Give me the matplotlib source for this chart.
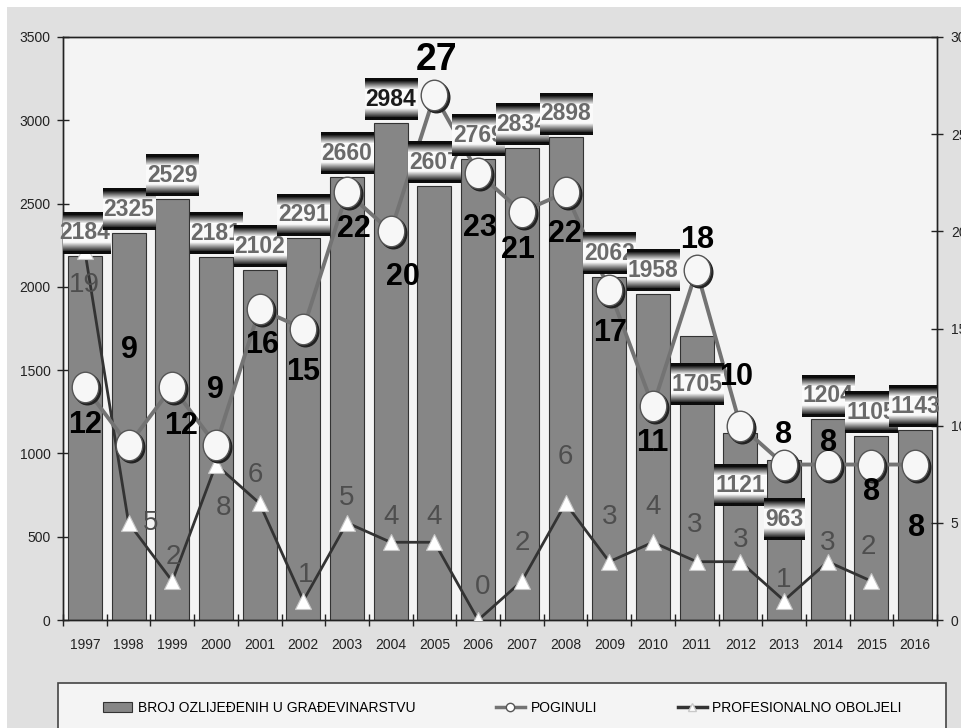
import numpy as np
import matplotlib
matplotlib.use("Agg")
import matplotlib.pyplot as plt
from matplotlib.patches import Rectangle
from matplotlib.lines import Line2D
from matplotlib.path import Path
from matplotlib.transforms import offset_copy

plt.rcParams['font.family'] = ['Liberation Sans', 'DejaVu Sans']

years = ['1997', '1998', '1999', '2000', '2001', '2002', '2003', '2004', '2005', '2006',
         '2007', '2008', '2009', '2010', '2011', '2012', '2013', '2014', '2015', '2016']
ozlijedeni = [2184, 2325, 2529, 2181, 2102, 2291, 2660, 2984, 2607, 2769,
              2834, 2898, 2062, 1958, 1705, 1121, 963, 1204, 1105, 1143]
poginuli = [12, 9, 12, 9, 16, 15, 22, 20, 27, 23, 21, 22, 17, 11, 18, 10, 8, 8, 8, 8]
oboljeli = [19, 5, 2, 8, 6, 1, 5, 4, 4, 0, 2, 6, 3, 4, 3, 3, 1, 3, 2]

# label placement (pixels, y up) - hand tuned to the original
pog_off = [(0, -38), (1, 95), (9, -39), (-1, 55), (2, -36), (0, -43), (7, -37), (12, -46),
           (2, 35), (2, -55), (-4, -38), (-1, -42), (1, -43), (-1, -37), (1, 30), (-4, 49),
           (0, 30), (1, 22), (0, -27), (1, -63)]
obo_off = [(0, -34), (22, 0), (1, 24), (8, -43), (-4, 28), (2, 26), (0, 25), (0, 25),
           (0, 25), (4, 33), (0, 38), (0, 46), (0, 45), (0, 35), (-2, 37), (0, 22),
           (0, 21), (0, 19), (-3, 34)]
box_bottom = {14: 1290, 15: 684, 16: 480}  # these boxes sit inside the bar

fig = plt.figure(figsize=(9.61, 7.28), dpi=100)
fig.patch.set_facecolor('white')
fig.add_artist(Rectangle((7 / 961, 0), 1, 721 / 728, transform=fig.transFigure,
                         facecolor='#e0e0e0', edgecolor='none', zorder=-10))

ax = fig.add_axes([63 / 961, 108 / 728, 874 / 961, 583 / 728])
ax.set_facecolor('#f4f4f4')
ax2 = ax.twinx()

x = np.arange(len(years))
ax.bar(x, ozlijedeni, width=0.78, color='#868686', edgecolor='#333333', linewidth=0.8, zorder=2)

ax.set_xlim(-0.5, len(years) - 0.5)
ax.set_ylim(0, 3500)
ax.set_xticks(x)
ax.set_xticklabels(years)
ax.set_xticks(np.arange(-0.5, len(years), 1), minor=True)
ax.tick_params(axis='x', which='major', length=0, pad=13, labelsize=10, colors='#222222')
ax.tick_params(axis='x', which='minor', direction='inout', length=9, width=1, color='#222222')
ax.set_yticks(range(0, 3501, 500))
ax.tick_params(axis='y', direction='inout', length=8, width=1, pad=5, labelsize=10,
               colors='#222222')
ax2.set_yticks(range(0, 31, 5))
ax2.tick_params(axis='y', direction='inout', length=8, width=1, pad=6, labelsize=10,
                colors='#222222')
for a in (ax, ax2):
    for s in a.spines.values():
        s.set_color('#222222')
        s.set_linewidth(1)

# occupational disease line
xo = x[:len(oboljeli)]
ax2.plot(xo, oboljeli, color='#333333', linewidth=2, zorder=3)
ax2.plot(xo, oboljeli, linestyle='none', marker='^', markersize=11, markerfacecolor='white',
         markeredgecolor='#c8c8c8', markeredgewidth=0.8, zorder=3.2)

# deaths line with oval markers
circ = Path.unit_circle()
ell = Path(circ.vertices * np.array([0.87, 1.0]), circ.codes)
ax2.plot(x, poginuli, color='#737373', linewidth=2.8, zorder=3.4)
shadow = offset_copy(ax2.transData, fig=fig, x=2, y=-2, units='dots')
ax2.plot(x, poginuli, linestyle='none', marker=ell, markersize=22, markerfacecolor='#222222',
         markeredgecolor='#222222', transform=shadow, zorder=3.5)
ax2.plot(x, poginuli, linestyle='none', marker=ell, markersize=22, markerfacecolor='#f7f7f7',
         markeredgecolor='#555555', markeredgewidth=1, zorder=3.6)

# bar value boxes with black-white-black gradient bands
col = np.concatenate([np.full(3, 0.05), np.linspace(0.15, 1.0, 9), np.full(18, 0.98),
                      np.linspace(0.95, 0.2, 9), np.full(3, 0.05)])
grad = col[:, None] * np.ones((1, 2))
box_h = 252
for i, v in enumerate(ozlijedeni):
    w = 1.19 if v >= 1000 else 0.92
    b = box_bottom.get(i, v + 15)
    ax2.imshow(grad, cmap='gray', vmin=0, vmax=1, aspect='auto', interpolation='bilinear',
               extent=(x[i] - w / 2, x[i] + w / 2, b, b + box_h),
               transform=ax.transData, zorder=5 + 2 * i)
    ax2.text(x[i], b + box_h * 0.5, str(v), transform=ax.transData, ha='center', va='center',
             fontsize=16.5, fontweight='bold', color='#1a1a1a' if v == 2984 else '#6a6a6a',
             zorder=6 + 2 * i)
ax2.set_xlim(-0.5, len(years) - 0.5)
ax2.set_ylim(0, 30)

for i, v in enumerate(poginuli):
    ax2.annotate(str(v), (x[i], v), xytext=pog_off[i], textcoords='offset pixels',
                 ha='center', va='center', fontsize=27 if v == 27 else 22,
                 fontweight='bold', color='black', zorder=60)
for i, v in enumerate(oboljeli):
    ax2.annotate(str(v), (x[i], v), xytext=obo_off[i], textcoords='offset pixels',
                 ha='center', va='center', fontsize=20, color='#4e4e4e', zorder=60)

# legend
fig.add_artist(Rectangle((58 / 961, -0.05), 888 / 961, 0.05 + 45 / 728, transform=fig.transFigure,
                         facecolor='#f4f4f4', edgecolor='#444444', linewidth=1.2, zorder=-5))
handles = [
    Rectangle((0, 0), 1, 1, facecolor='#868686', edgecolor='#333333', linewidth=0.8),
    Line2D([], [], color='#737373', linewidth=2.5, marker='o', markersize=6,
           markerfacecolor='white', markeredgecolor='#555555'),
    Line2D([], [], color='#333333', linewidth=2.5, marker='^', markersize=6,
           markerfacecolor='white', markeredgecolor='#c8c8c8'),
]
labels = ['BROJ OZLIJEĐENIH U GRAĐEVINARSTVU', 'POGINULI', 'PROFESIONALNO OBOLJELI']
fig.legend(handles, labels, loc='center left', bbox_to_anchor=(103 / 961, 1 - 708 / 728),
           ncol=3, frameon=False, fontsize=10, handlelength=2.1, handletextpad=0.4,
           columnspacing=5.8, borderpad=0, borderaxespad=0)

fig.savefig('out.png', dpi=100)
